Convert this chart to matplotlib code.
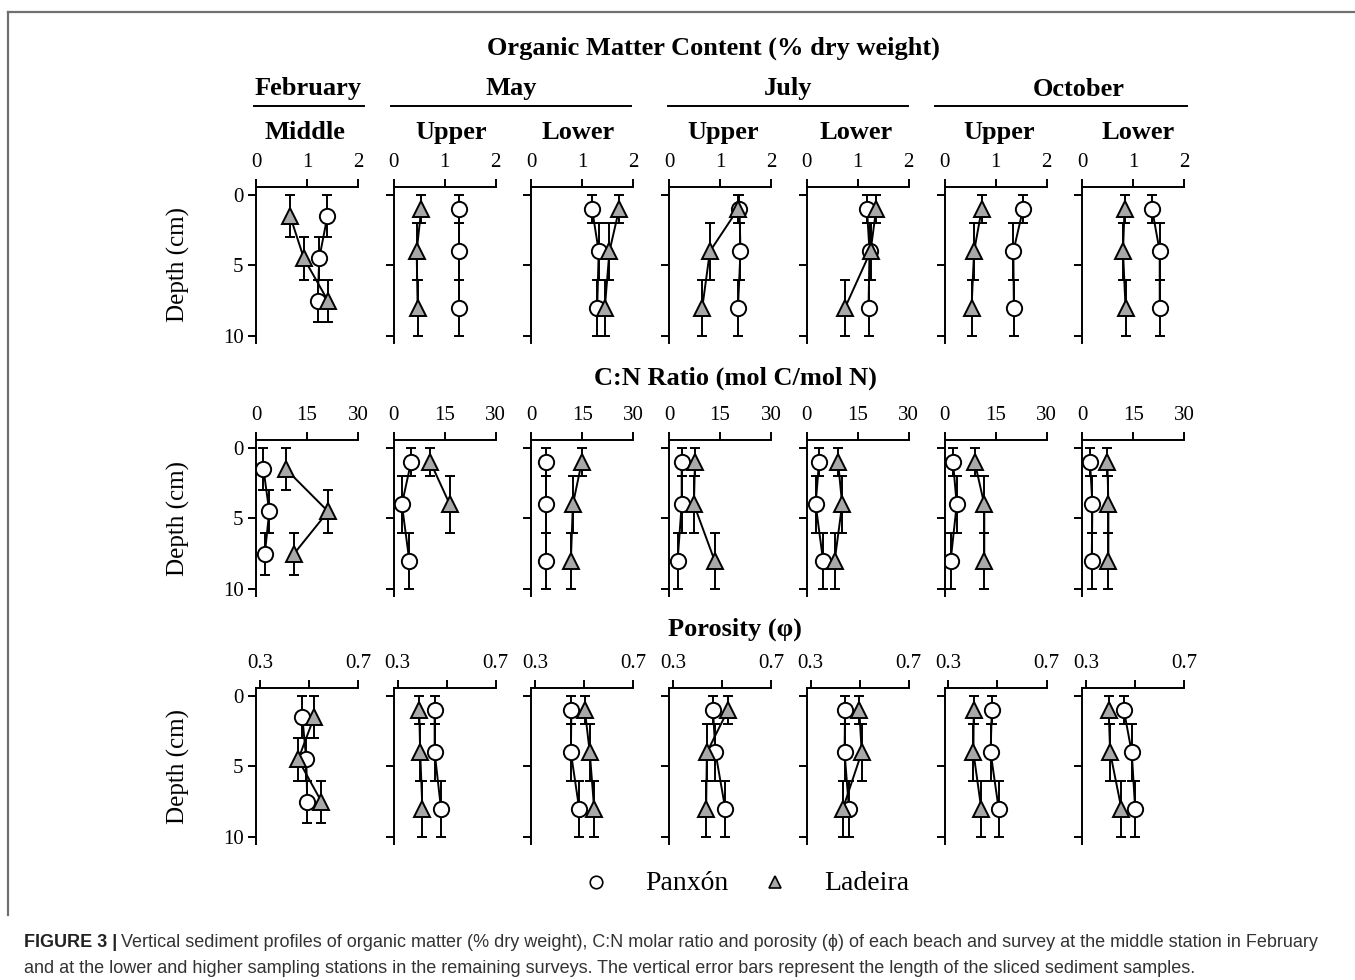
import numpy as np
import matplotlib
matplotlib.use("Agg")
import matplotlib.pyplot as plt
from matplotlib.lines import Line2D

# ---------------------------------------------------------------------------
# Data
# ---------------------------------------------------------------------------
months = ["February", "May", "July", "October"]
stations = ["Middle", "Upper", "Lower", "Upper", "Lower", "Upper", "Lower"]

depth_feb = [1.5, 4.5, 7.5]
depth_err_feb = [1.5, 1.5, 1.5]
depth_std = [1, 4, 8]
depth_err_std = [1, 2, 2]

# organic matter (% dry weight), one row per panel
om_panxon = [
    [1.40, 1.24, 1.21],
    [1.28, 1.28, 1.28],
    [1.19, 1.32, 1.29],
    [1.38, 1.40, 1.35],
    [1.18, 1.23, 1.21],
    [1.54, 1.35, 1.36],
    [1.37, 1.52, 1.52],
]
om_ladeira = [
    [0.67, 0.94, 1.41],
    [0.54, 0.45, 0.47],
    [1.72, 1.53, 1.44],
    [1.35, 0.80, 0.65],
    [1.36, 1.25, 0.75],
    [0.73, 0.58, 0.53],
    [0.83, 0.80, 0.85],
]

# C:N ratio (mol C / mol N)
cn_panxon = [
    [2.2, 3.9, 2.6],
    [5.1, 2.4, 4.6],
    [4.3, 4.3, 4.3],
    [3.7, 3.7, 2.5],
    [3.6, 2.6, 4.8],
    [2.5, 3.6, 1.8],
    [2.3, 3.0, 2.8],
]
cn_ladeira = [
    [8.8, 21.2, 11.2],
    [10.8, 16.5, None],
    [14.8, 12.2, 11.6],
    [7.6, 7.3, 13.4],
    [9.2, 10.4, 8.2],
    [8.9, 11.7, 11.7],
    [7.4, 7.7, 7.7],
]

# porosity
por_panxon = [
    [0.473, 0.489, 0.493],
    [0.451, 0.451, 0.477],
    [0.447, 0.445, 0.479],
    [0.463, 0.473, 0.513],
    [0.440, 0.438, 0.456],
    [0.477, 0.472, 0.505],
    [0.454, 0.486, 0.500],
]
por_ladeira = [
    [0.521, 0.456, 0.551],
    [0.388, 0.392, 0.401],
    [0.502, 0.522, 0.540],
    [0.524, 0.438, 0.435],
    [0.498, 0.508, 0.431],
    [0.403, 0.402, 0.434],
    [0.392, 0.398, 0.444],
]

# ---------------------------------------------------------------------------
# Layout (pixels)
# ---------------------------------------------------------------------------
FIG_W, FIG_H = 1355, 980
SERIF = "Liberation Serif"
SANS = "Liberation Sans"
TRI_GREY = "#a8a8a8"
COL_X0, COL_STEP, AX_W, AX_H = 256, 137.7, 102, 156
ROW_TOPS = [187, 440, 688]
HEAD_FS = 19
TICK_FS = 15

ROWS = [
    dict(pan=om_panxon, lad=om_ladeira, xlim=(0, 2), ticks=[0, 1, 2],
         labels=["0", "1", "2"], title="Organic Matter Content (% dry weight)",
         title_xy=(713, 48)),
    dict(pan=cn_panxon, lad=cn_ladeira, xlim=(0, 30), ticks=[0, 15, 30],
         labels=["0", "15", "30"], title="C:N Ratio (mol C/mol N)",
         title_xy=(735, 378)),
    dict(pan=por_panxon, lad=por_ladeira, xlim=(0.284, 0.7),
         ticks=[0.3, 0.5, 0.7], labels=["0.3", "", "0.7"],
         title="Porosity (\u03c6)", title_xy=(735, 629)),
]

fig = plt.figure(figsize=(FIG_W / 100, FIG_H / 100), dpi=100)
fig.patch.set_facecolor("white")


def fx(x):
    return x / FIG_W


def fy(y):
    return 1 - y / FIG_H


def ftext(x, y, s, **kw):
    kw.setdefault("family", SERIF)
    kw.setdefault("ha", "center")
    kw.setdefault("va", "center")
    return fig.text(fx(x), fy(y), s, **kw)


def clean(vals):
    return np.array([np.nan if v is None else v for v in vals], dtype=float)


for r, row in enumerate(ROWS):
    top = ROW_TOPS[r]
    for c in range(7):
        left = COL_X0 + c * COL_STEP
        ax = fig.add_axes([fx(left), fy(top + AX_H), fx(AX_W), AX_H / FIG_H])
        if c == 0:
            depth, derr = depth_feb, depth_err_feb
        else:
            depth, derr = depth_std, depth_err_std

        ax.errorbar(clean(row["pan"][c]), depth, yerr=derr, fmt="-o",
                    color="black", lw=1.4, elinewidth=1.4, capsize=3.6,
                    capthick=1.4, ms=11, mfc="white", mec="black",
                    mew=1.4, zorder=2)
        ax.errorbar(clean(row["lad"][c]), depth, yerr=derr, fmt="-^",
                    color="black", lw=1.4, elinewidth=1.4, capsize=3.6,
                    capthick=1.4, ms=11, mfc=TRI_GREY, mec="black",
                    mew=1.4, zorder=3)

        ax.set_xlim(*row["xlim"])
        ax.set_ylim(10.5, -0.57)
        ax.set_xticks(row["ticks"])
        ax.set_xticklabels(row["labels"])
        ax.set_yticks([0, 5, 10])
        ax.xaxis.tick_top()
        for side in ("right", "bottom"):
            ax.spines[side].set_visible(False)
        for side in ("left", "top"):
            ax.spines[side].set_linewidth(1.4)
        ax.tick_params(axis="x", direction="out", length=6, width=1.4,
                       pad=4.5, labelsize=TICK_FS)
        ax.tick_params(axis="y", direction="out", length=6, width=1.4,
                       pad=3, labelsize=TICK_FS, labelleft=(c == 0))
        for lab in ax.get_xticklabels() + ax.get_yticklabels():
            lab.set_family(SERIF)
        ax.patch.set_alpha(0)

    ftext(row["title_xy"][0], row["title_xy"][1], row["title"],
          fontsize=HEAD_FS, fontweight="bold")
    ftext(178, top + 78, "Depth (cm)", fontsize=18, rotation=90)

# month headers with underlines
month_centres = [308, 511, 788, 1079]
month_lines = [(254, 364), (391, 631), (668, 908), (935, 1187)]
for name, xc, (x0, x1) in zip(months, month_centres, month_lines):
    ftext(xc, 89, name, fontsize=HEAD_FS, fontweight="bold")
    fig.add_artist(Line2D([fx(x0), fx(x1)], [fy(106), fy(106)],
                          color="black", lw=1.4))

station_centres = [305, 451, 578, 723, 856, 999, 1138]
for name, xc in zip(stations, station_centres):
    ftext(xc, 132, name, fontsize=HEAD_FS, fontweight="bold")

# legend
fig.add_artist(Line2D([fx(596)], [fy(882)], marker="o", ms=9, mfc="white",
                      mec="black", mew=1.2, transform=fig.transFigure))
fig.add_artist(Line2D([fx(775)], [fy(882)], marker="^", ms=9, mfc=TRI_GREY,
                      mec="black", mew=1.2, transform=fig.transFigure))
ftext(645, 883, "Panx\u00f3n", fontsize=20, ha="left")
ftext(824, 883, "Ladeira", fontsize=20, ha="left")

# frame (top and left edges only)
fig.add_artist(Line2D([fx(8), 1], [fy(12), fy(12)], color="#707070", lw=1.6))
fig.add_artist(Line2D([fx(8), fx(8)], [fy(12), fy(915)], color="#707070",
                      lw=1.6))

# caption
renderer = fig.canvas.get_renderer()
cap_fam = [SANS, "DejaVu Sans"]
CAP_FS = 13.0
head = fig.text(fx(24), fy(942), "FIGURE 3 |", family=cap_fam,
                fontsize=CAP_FS, fontweight="bold", color="#222222",
                va="center", ha="left")
bb = head.get_window_extent(renderer)
fig.text(fx(bb.x1 + 4), fy(942),
         "Vertical sediment profiles of organic matter (% dry weight), C:N "
         "molar ratio and porosity (\u03d5) of each beach and survey at the "
         "middle station in February",
         family=cap_fam, fontsize=CAP_FS, color="#333333", va="center",
         ha="left")
fig.text(fx(24), fy(968),
         "and at the lower and higher sampling stations in the remaining "
         "surveys. The vertical error bars represent the length of the "
         "sliced sediment samples.",
         family=cap_fam, fontsize=CAP_FS, color="#333333", va="center",
         ha="left")

fig.savefig("out.png", dpi=100, facecolor="white")
